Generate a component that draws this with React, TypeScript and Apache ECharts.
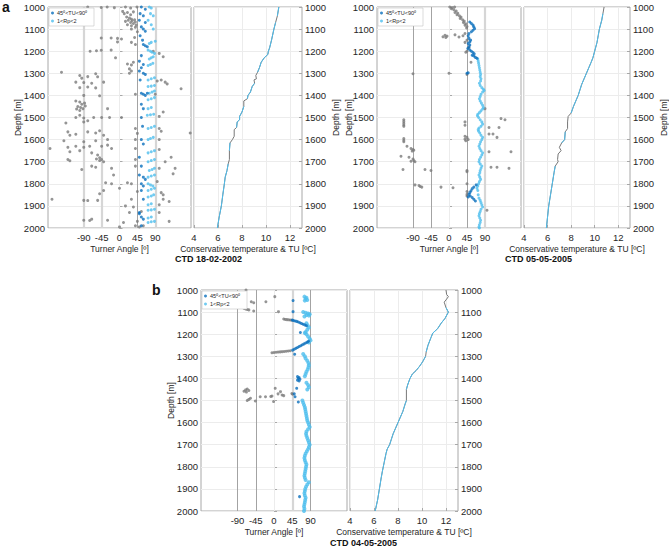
import React, { useEffect, useRef } from "react";
import * as echarts from "echarts";

type P = [number, number];

// ---------- labels / ticks ----------
const LEGEND_NAMES = ["45º<TU<90º", "1<Rp<2"];
const TU_TICKS = [-90, -45, 0, 45, 90];
const TEMP_TICKS = [4, 6, 8, 10, 12];
const TITLES = ["CTD 18-02-2002", "CTD 05-05-2005", "CTD 04-05-2005"];
const PANEL_LETTERS = ["a", "b"];

// ---------- CTD 18-02-2002 : Turner angle [deg, depth] ----------
const a1Grey: P[] = [
  [-80, 1000], [-46, 1002], [-31, 1000], [-13, 1003], [15, 1000], [28, 1005], [44, 1000],
  [8, 1020], [12, 1030], [20, 1025], [28, 1035], [35, 1022], [18, 1045], [25, 1050], [30, 1055], [22, 1060],
  [32, 1062], [38, 1058], [15, 1065], [28, 1070], [35, 1075], [40, 1068], [20, 1080], [30, 1085], [42, 1082],
  [30, 1100], [40, 1092], [45, 1112],
  [-46, 1140], [-21, 1140], [-5, 1142], [5, 1145], [38, 1138], [40, 1170], [-5, 1158], [30, 1160],
  [-74, 1200], [-58, 1198], [-46, 1196], [-21, 1195], [85, 1200], [100, 1210], [110, 1225], [-10, 1230],
  [20, 1258], [30, 1262], [35, 1250], [25, 1280],
  [-146, 1295], [30, 1290], [25, 1300],
  [-100, 1310], [-95, 1322], [-80, 1315], [-60, 1302], [-55, 1316],
  [-110, 1340], [-90, 1342], [-70, 1345], [-40, 1340],
  [-100, 1365], [-80, 1362], [-60, 1366], [95, 1335], [105, 1330], [115, 1340], [120, 1348], [155, 1370],
  [-90, 1400], [-50, 1402], [40, 1395], [90, 1395],
  [-110, 1425], [-100, 1430], [-95, 1440], [-88, 1435], [-105, 1450], [-98, 1455], [-92, 1460], [-86, 1448],
  [-100, 1468], [-108, 1462], [-30, 1460],
  [-100, 1490], [110, 1475],
  [-110, 1500], [-90, 1502], [-65, 1500], [-45, 1500], [-25, 1500], [5, 1500], [100, 1495],
  [-135, 1525], [-90, 1520], [-80, 1515],
  [-130, 1565], [-125, 1580], [-110, 1576], [-80, 1565], [-60, 1570], [-50, 1560], [-40, 1580], [40, 1550],
  [45, 1572], [100, 1550], [105, 1562], [178, 1570],
  [-140, 1605], [-90, 1610], [-60, 1605], [-30, 1600], [40, 1600], [100, 1600],
  [-175, 1640], [-130, 1635], [-110, 1630], [-90, 1635], [-75, 1630], [-45, 1630], [-30, 1625], [-20, 1640],
  [40, 1640], [100, 1645],
  [-125, 1655], [-100, 1650], [-70, 1660],
  [-55, 1670], [-50, 1682], [-45, 1690], [-40, 1700], [-50, 1695], [-58, 1688], [-130, 1690], [-125, 1696],
  [40, 1690], [130, 1680], [115, 1700],
  [-95, 1735], [-60, 1725], [-70, 1720], [-20, 1730], [40, 1720], [100, 1730], [140, 1730],
  [-15, 1760], [135, 1755],
  [-35, 1795], [-20, 1800], [20, 1795], [30, 1800], [95, 1790],
  [-40, 1830], [-50, 1845], [0, 1820], [45, 1835], [105, 1840], [110, 1850],
  [-170, 1870], [-90, 1875], [-80, 1876], [-55, 1875], [30, 1870], [110, 1870],
  [15, 1900], [35, 1905], [100, 1895], [125, 1880],
  [25, 1930], [55, 1925], [100, 1930],
  [-90, 1965], [-75, 1966], [-70, 1960], [-30, 1965], [10, 1975], [45, 1970], [125, 1970],
  [0, 1995], [40, 1990], [50, 1995], [60, 1990],
];
const a1Dark: P[] = [
  [55, 1000], [65, 1010], [52, 1030], [60, 1040], [50, 1060], [65, 1070], [55, 1090], [60, 1100], [65, 1110],
  [52, 1130], [58, 1150], [60, 1170], [65, 1175], [70, 1180], [55, 1220], [50, 1245], [60, 1260], [55, 1275],
  [50, 1290], [60, 1300], [65, 1305], [52, 1330], [55, 1390], [60, 1395], [65, 1400], [70, 1390], [55, 1440],
  [60, 1460], [55, 1500], [58, 1540], [55, 1600], [60, 1620], [50, 1680], [55, 1720], [50, 1760], [60, 1770],
  [65, 1780], [55, 1800], [60, 1810], [55, 1830], [60, 1870], [50, 1930], [55, 1950], [60, 1960], [55, 1990],
  [50, 1935],
];
const a1Light: P[] = [
  [75, 1000], [80, 1005], [78, 1030], [85, 1040], [72, 1060], [80, 1080], [85, 1100], [90, 1155], [80, 1160],
  [75, 1165], [72, 1195], [78, 1200], [82, 1205], [88, 1210], [75, 1235], [80, 1230], [85, 1225], [72, 1265],
  [78, 1260], [84, 1255], [72, 1330], [80, 1325], [88, 1320], [72, 1360], [80, 1358], [88, 1355], [75, 1390],
  [82, 1385], [88, 1380], [72, 1420], [80, 1415], [88, 1410], [72, 1460], [80, 1455], [70, 1490], [78, 1488],
  [86, 1485], [72, 1550], [80, 1545], [88, 1540], [72, 1600], [78, 1595], [85, 1590], [72, 1660], [80, 1655],
  [88, 1650], [72, 1700], [80, 1695], [88, 1690], [75, 1740], [82, 1735], [88, 1730], [72, 1770], [80, 1765],
  [88, 1760], [72, 1800], [78, 1805], [84, 1810], [72, 1830], [80, 1825], [88, 1820], [72, 1860], [80, 1855],
  [86, 1850], [72, 1895], [80, 1890], [72, 1920], [80, 1918], [88, 1915], [72, 1955], [80, 1950], [72, 1975],
  [80, 1972], [88, 1970],
];
// conservative temperature [degC, depth]
const a1Temp: P[] = [
  [11.07, 1000], [10.95, 1040], [10.8, 1070], [10.66, 1100], [10.46, 1150], [10.3, 1185], [10.2, 1200],
  [10.15, 1215], [9.85, 1230], [9.6, 1250], [9.45, 1275], [9.3, 1295], [9.15, 1310], [9.2, 1325], [9.0, 1330],
  [9.05, 1345], [8.85, 1360], [8.7, 1385], [8.5, 1400], [8.45, 1415], [8.15, 1425], [8.15, 1450], [8.0, 1475],
  [7.8, 1495], [7.8, 1510], [7.6, 1520], [7.55, 1545], [7.35, 1555], [7.35, 1585], [7.2, 1600], [7.0, 1615],
  [6.95, 1650], [6.95, 1690], [6.85, 1710], [6.75, 1740], [6.6, 1770], [6.53, 1800], [6.4, 1850],
  [6.28, 1900], [6.1, 1950], [5.95, 2000],
];
const a1GreyDepths: P[] = [[1040, 1075], [1300, 1345], [1415, 1450], [1545, 1615], [1650, 1710]];

// ---------- CTD 05-05-2005 ----------
const a2Grey: P[] = [
  [2, 1000], [8, 1003], [14, 1000], [6, 1008], [12, 1012], [18, 1018], [15, 1025], [22, 1028], [20, 1035],
  [26, 1040], [30, 1046], [28, 1052], [34, 1058], [38, 1064], [36, 1070], [42, 1076], [40, 1082], [45, 1088],
  [44, 1095],
  [-10, 1128], [-5, 1132], [-15, 1135], [-8, 1138], [15, 1126], [25, 1136], [35, 1130], [40, 1120], [45, 1150],
  [40, 1160], [45, 1200], [42, 1205], [50, 1185], [55, 1250],
  [-90, 1302], [0, 1300], [45, 1305],
  [90, 1460],
  [-113, 1510], [-113, 1518], [-113, 1526], [-113, 1534], [-113, 1540],
  [40, 1520], [40, 1535], [100, 1545], [130, 1505], [140, 1510], [125, 1545], [110, 1575], [120, 1590], [100, 1575],
  [-113, 1595], [-113, 1603], [-113, 1610],
  [40, 1585], [45, 1590], [40, 1598], [42, 1605], [48, 1600],
  [-105, 1630], [-95, 1640], [-90, 1645], [-92, 1652], [-88, 1648], [-120, 1675], [-100, 1680], [-90, 1688],
  [-88, 1695], [-85, 1700], [-95, 1698],
  [100, 1655], [155, 1655],
  [-115, 1735], [-60, 1735], [-45, 1740], [45, 1740], [45, 1745], [105, 1725], [120, 1725], [150, 1730],
  [-85, 1805], [-75, 1808], [-72, 1812], [-68, 1815], [-20, 1815], [10, 1818], [45, 1800], [45, 1835],
  [45, 1848], [45, 1855],
  [95, 1920],
];
const a2Dark: P[] = [
  [52, 1068], [56, 1075], [60, 1082], [62, 1090], [64, 1098], [60, 1105], [56, 1112], [50, 1120], [48, 1130],
  [50, 1142], [54, 1150], [52, 1158], [48, 1165], [52, 1172], [50, 1180], [47, 1188], [52, 1195], [56, 1200],
  [60, 1206], [63, 1212], [58, 1218], [62, 1222], [66, 1228], [70, 1232], [45, 1300], [48, 1298],
  [68, 1805], [62, 1815], [58, 1822], [55, 1832], [52, 1840], [50, 1848], [53, 1855], [58, 1862], [62, 1870],
  [66, 1878], [48, 1860],
];
const a2Light: P[] = [
  [72, 1235], [73, 1245], [74, 1255], [75, 1265], [76, 1275], [77, 1285], [78, 1295], [79, 1305], [78, 1315],
  [80, 1325], [79, 1335], [76, 1345], [78, 1355], [82, 1365], [86, 1372], [88, 1378], [84, 1385], [80, 1395],
  [78, 1405], [76, 1415], [78, 1425], [81, 1435], [84, 1445], [86, 1455], [84, 1462], [80, 1470], [76, 1478],
  [72, 1485], [71, 1492], [74, 1500], [78, 1510], [82, 1520], [84, 1530], [80, 1540], [75, 1548], [73, 1555],
  [74, 1562], [77, 1570], [80, 1580], [84, 1590], [82, 1600], [79, 1610], [77, 1620], [75, 1630], [77, 1640],
  [80, 1650], [84, 1660], [82, 1670], [79, 1680], [76, 1690], [75, 1700], [78, 1710], [82, 1720], [80, 1730],
  [78, 1740], [77, 1750], [75, 1760], [77, 1770], [79, 1780], [76, 1790], [74, 1800], [72, 1810], [70, 1820],
  [72, 1830], [73, 1850], [75, 1865], [78, 1875], [80, 1885], [82, 1895], [84, 1905], [80, 1915], [78, 1925],
  [76, 1935], [75, 1945], [77, 1955], [79, 1965], [78, 1975], [76, 1985], [75, 1995], [76, 2000],
];
const a2Temp: P[] = [
  [10.8, 1000], [10.7, 1030], [10.6, 1060], [10.4, 1100], [10.3, 1130], [10.2, 1160], [10.0, 1200],
  [9.85, 1230], [9.7, 1250], [9.5, 1275], [9.3, 1300], [9.1, 1325], [8.9, 1350], [8.75, 1375], [8.6, 1400],
  [8.4, 1425], [8.2, 1450], [8.0, 1480], [7.75, 1495], [7.7, 1520], [7.7, 1550], [7.5, 1565], [7.45, 1600],
  [7.2, 1615], [7.0, 1635], [7.15, 1650], [6.9, 1665], [6.85, 1690], [6.9, 1700], [6.65, 1720], [6.55, 1750],
  [6.4, 1800], [6.25, 1850], [6.1, 1900], [6.0, 1950], [5.9, 2000],
];
const a2GreyDepths: P[] = [[1000, 1030], [1480, 1565], [1615, 1720]];

// ---------- CTD 04-05-2005 ----------
const bGrey: P[] = [
  [-69, 1000], [2, 1030], [-20, 1053], [-56, 1053], [-50, 1058], [-74, 1083], [-70, 1086], [-66, 1088],
  [-62, 1090], [-50, 1095], [11, 1098],
  [24, 1131], [28, 1133], [32, 1134], [36, 1135], [40, 1136], [44, 1137],
  [-5, 1284], [0, 1283], [5, 1282], [10, 1281], [15, 1280], [20, 1279], [25, 1278], [30, 1277], [35, 1276],
  [40, 1275],
  [-70, 1452], [-66, 1448], [-62, 1455], [-74, 1458], [-68, 1462], [-62, 1495], [-66, 1500], [-58, 1490],
  [-46, 1502], [-34, 1483], [-21, 1483], [-8, 1482], [-5, 1480], [-1, 1505], [3, 1445], [16, 1460], [20, 1475],
  [24, 1478], [10, 1470], [44, 1468], [46, 1472],
];
const bDark: P[] = [
  [47, 1048], [47, 1098], [45, 1136], [48, 1138], [52, 1140], [56, 1142], [60, 1145], [64, 1148], [68, 1152],
  [72, 1155], [76, 1158], [80, 1162], [65, 1192],
  [85, 1232], [82, 1236], [78, 1240], [74, 1244], [70, 1248], [66, 1252], [62, 1256], [58, 1260], [54, 1264],
  [50, 1268], [46, 1272], [51, 1291],
  [58, 1392], [62, 1396], [60, 1400], [64, 1404], [58, 1408], [62, 1412], [56, 1445], [52, 1483], [50, 1470],
  [60, 1507], [63, 1935],
];
const bLight: P[] = [
  [75, 1030], [80, 1035], [78, 1040], [82, 1045], [76, 1048],
  [72, 1100], [78, 1103], [84, 1106], [88, 1110], [80, 1113], [86, 1116], [75, 1120],
  [80, 1150], [83, 1160], [86, 1170], [82, 1180], [78, 1190], [76, 1195], [80, 1200], [84, 1210], [88, 1220],
  [90, 1228], [86, 1238],
  [72, 1290], [76, 1300], [78, 1310], [82, 1320], [85, 1330], [86, 1340], [85, 1350], [83, 1360], [80, 1370],
  [78, 1380], [76, 1390], [80, 1420], [84, 1430], [86, 1440], [82, 1450],
  [70, 1500], [72, 1510], [74, 1520], [76, 1530], [77, 1540], [78, 1550], [79, 1560], [80, 1570], [81, 1580],
  [82, 1590], [84, 1600], [86, 1610], [88, 1620], [84, 1630], [80, 1640], [79, 1650], [80, 1660], [82, 1670],
  [84, 1680], [86, 1690], [88, 1700], [86, 1710], [84, 1720], [81, 1730], [78, 1740], [76, 1750], [75, 1760],
  [76, 1770], [78, 1780], [80, 1790], [79, 1800], [78, 1810], [77, 1820], [76, 1830], [75, 1840], [76, 1850],
  [78, 1860], [86, 1870], [82, 1880], [79, 1890], [77, 1900], [76, 1910], [75, 1920], [76, 1930], [78, 1940],
  [77, 1950], [76, 1960], [75, 1970], [74, 1980], [75, 1990], [74, 2000],
];
const bTemp: P[] = [
  [12.0, 1000], [12.05, 1020], [12.2, 1030], [12.0, 1045], [11.85, 1055], [12.0, 1080], [12.2, 1100],
  [11.9, 1130], [11.6, 1150], [11.3, 1175], [10.9, 1195], [10.75, 1215], [10.5, 1250], [10.35, 1280],
  [10.3, 1300], [10.05, 1325], [9.8, 1345], [9.5, 1365], [9.2, 1380], [9.0, 1400], [8.8, 1430], [8.7, 1450],
  [8.7, 1500], [8.6, 1515], [8.4, 1550], [8.2, 1575], [8.0, 1600], [7.8, 1625], [7.6, 1650], [7.45, 1675],
  [7.3, 1700], [7.1, 1720], [7.0, 1740], [6.85, 1780], [6.7, 1820], [6.6, 1850], [6.45, 1900], [6.3, 1950],
  [6.1, 2000],
];
const bGreyDepths: P[] = [[1000, 1085], [1280, 1310], [1440, 1500]];

// ---------- styling ----------
const FONT = '"Liberation Sans", Arial, Helvetica, sans-serif';
const TXT = "#262626";
const FRAME = "#a8a8a8";
const GRIDC = "#ececec";
const GREY = "#7b7b7b";
const DARK = "#0a6fbd";
const LIGHT = "#4dbeee";
const THICK = "#d6d6d6";
const THIN = "#a3a3a3";

type Box = { left: number; top: number; width: number; height: number };
type Panel = {
  grey: P[]; dark: P[]; light: P[]; temp: P[]; greyDepths: P[];
  tu: Box; t: Box; refs: { v: number; thick: boolean }[]; rightName: boolean;
  title: string; titleX: number; titleY: number; lightSize: number; leftGap: number;
};

const PANELS: Panel[] = [
  {
    grey: a1Grey, dark: a1Dark, light: a1Light, temp: a1Temp, greyDepths: a1GreyDepths,
    tu: { left: 48, top: 7, width: 143, height: 221 }, t: { left: 194, top: 7, width: 108, height: 221 },
    refs: [{ v: -90, thick: true }, { v: -45, thick: true }, { v: 45, thick: false }, { v: 90, thick: true }],
    rightName: true, title: TITLES[0], titleX: 175, titleY: 259, lightSize: 3, leftGap: 26,
  },
  {
    grey: a2Grey, dark: a2Dark, light: a2Light, temp: a2Temp, greyDepths: a2GreyDepths,
    tu: { left: 377, top: 7, width: 144, height: 221 }, t: { left: 524, top: 7, width: 108, height: 221 },
    refs: [{ v: -90, thick: false }, { v: -45, thick: false }, { v: 45, thick: false }, { v: 90, thick: true }],
    rightName: true, title: TITLES[1], titleX: 505, titleY: 259, lightSize: 3, leftGap: 24,
  },
  {
    grey: bGrey, dark: bDark, light: bLight, temp: bTemp, greyDepths: bGreyDepths,
    tu: { left: 201, top: 290, width: 146, height: 221 }, t: { left: 350, top: 290, width: 108, height: 221 },
    refs: [{ v: -90, thick: false }, { v: -45, thick: false }, { v: 45, thick: true }, { v: 90, thick: false }],
    rightName: false, title: TITLES[2], titleX: 330, titleY: 543, lightSize: 4, leftGap: 26,
  },
];

function blueSegments(temp: P[], ranges: P[]): any[] {
  const out: any[] = [];
  for (let i = 0; i < temp.length; i++) {
    out.push(temp[i]);
    if (i < temp.length - 1) {
      const mid = (temp[i][1] + temp[i + 1][1]) / 2;
      if (ranges.some(([lo, hi]) => mid > lo && mid < hi)) out.push(["-", "-"]);
    }
  }
  return out;
}

function buildOption(): any {
  const grid: any[] = [];
  const xAxis: any[] = [];
  const yAxis: any[] = [];
  const series: any[] = [];
  const legend: any[] = [];
  const graphic: any[] = [];
  const tickLabel = { fontSize: 9.5, color: TXT, fontFamily: FONT, formatter: (v: number) => String(v) };
  const nameStyle = { fontSize: 8.5, color: TXT, fontFamily: FONT };

  PANELS.forEach((p) => {
    const gi = grid.length;
    [p.tu, p.t].forEach((b) =>
      grid.push({ ...b, show: true, borderColor: FRAME, borderWidth: 1, backgroundColor: "#fff", containLabel: false })
    );
    // Turner angle axis
    xAxis.push({
      gridIndex: gi, type: "value", min: -180, max: 180, interval: 45,
      axisLine: { show: false },
      axisTick: { show: true, inside: true, length: 3, customValues: TU_TICKS, lineStyle: { color: FRAME } },
      axisLabel: { ...tickLabel, margin: 4, customValues: TU_TICKS },
      splitLine: { show: false },
      name: "Turner Angle [º]", nameLocation: "middle", nameGap: 16, nameTextStyle: nameStyle,
    });
    // temperature axis
    xAxis.push({
      gridIndex: gi + 1, type: "value", min: 4, max: 13, interval: 2,
      axisLine: { show: false },
      axisTick: { show: true, inside: true, length: 3, customValues: TEMP_TICKS, lineStyle: { color: FRAME } },
      axisLabel: { ...tickLabel, margin: 4, customValues: TEMP_TICKS },
      splitLine: { show: true, lineStyle: { color: GRIDC, width: 1 } },
      name: "Conservative temperature & TU [ºC]", nameLocation: "middle", nameGap: 16, nameTextStyle: nameStyle,
    });
    const yBase = {
      type: "value", inverse: true, min: 1000, max: 2000, interval: 100,
      axisLine: { show: false },
      axisTick: { show: true, inside: true, length: 3, lineStyle: { color: FRAME } },
      axisLabel: { ...tickLabel, margin: 3 },
      splitLine: { show: true, lineStyle: { color: GRIDC, width: 1 } },
      nameLocation: "middle", nameRotate: 90, nameMoveOverlap: false, nameTextStyle: nameStyle,
    };
    yAxis.push({ ...yBase, gridIndex: gi, position: "left", name: "Depth [m]", nameGap: p.leftGap });
    yAxis.push({ ...yBase, gridIndex: gi + 1, position: "right", name: p.rightName ? "Depth [m]" : "", nameGap: 29 });

    const ax = { xAxisIndex: gi, yAxisIndex: gi };
    series.push({
      type: "scatter", name: "TU", ...ax, z: 3, data: p.grey, symbolSize: 3,
      itemStyle: { color: GREY }, silent: true,
      markLine: {
        z: 1, silent: true, symbol: "none", label: { show: false }, animation: false,
        data: [
          { xAxis: 0, lineStyle: { color: GRIDC, width: 1, type: "solid" } },
          ...p.refs.map((r) => ({
            xAxis: r.v,
            lineStyle: { color: r.thick ? THICK : THIN, width: r.thick ? 2.2 : 1, type: "solid" },
          })),
        ],
      },
    });
    series.push({
      type: "scatter", name: LEGEND_NAMES[1], ...ax, z: 4, data: p.light, symbolSize: p.lightSize,
      itemStyle: { color: LIGHT }, silent: true,
    });
    series.push({
      type: "scatter", name: LEGEND_NAMES[0], ...ax, z: 5, data: p.dark, symbolSize: 3,
      itemStyle: { color: DARK }, silent: true,
    });
    const tx = { xAxisIndex: gi + 1, yAxisIndex: gi + 1 };
    series.push({
      type: "line", name: "theta-grey", ...tx, data: p.temp, showSymbol: false, symbol: "none", z: 3,
      lineStyle: { color: "#777", width: 1 }, silent: true,
    });
    series.push({
      type: "line", name: "theta-blue", ...tx, data: blueSegments(p.temp, p.greyDepths), showSymbol: false,
      symbol: "none", z: 4, lineStyle: { color: LIGHT, width: 1 }, silent: true, connectNulls: false,
    });

    legend.push({
      left: p.tu.left + 1, top: p.tu.top + 1, orient: "vertical", data: LEGEND_NAMES, selectedMode: false,
      icon: "circle", itemWidth: 3, itemHeight: 3, itemGap: 2,
      textStyle: { fontSize: 5.5, color: TXT, fontFamily: FONT, padding: [0, 0, 0, -2] },
      backgroundColor: "#fff", borderColor: "#c4c4c4", borderWidth: 0.6, padding: [2, 7, 2, 2], z: 20,
    });

    graphic.push({
      type: "text", left: p.titleX, top: p.titleY - 5, z: 20,
      style: { text: p.title, font: `bold 9px ${FONT}`, fill: "#111", textAlign: "center" },
    });
  });

  graphic.push({ type: "text", left: 2, top: 0, style: { text: PANEL_LETTERS[0], font: `bold 14px ${FONT}`, fill: "#111" } });
  graphic.push({ type: "text", left: 152, top: 283, style: { text: PANEL_LETTERS[1], font: `bold 14px ${FONT}`, fill: "#111" } });

  return {
    animation: false,
    backgroundColor: "#fff",
    textStyle: { fontFamily: FONT },
    grid, xAxis, yAxis, series, legend, graphic,
  };
}

export default function App() {
  const ref = useRef<HTMLDivElement>(null);
  useEffect(() => {
    const chart = echarts.init(ref.current!, null, { renderer: "svg" });
    chart.setOption(buildOption());
    return () => chart.dispose();
  }, []);
  return (
    <div
      ref={ref}
      style={{ position: "fixed", left: 0, top: 0, width: 669, height: 548, background: "#fff" }}
    />
  );
}
